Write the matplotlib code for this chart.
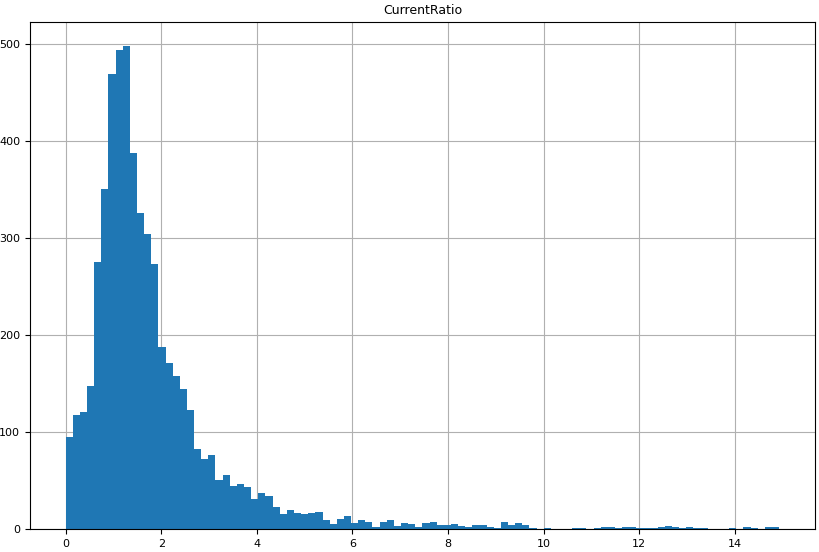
import numpy as np
import matplotlib
matplotlib.use("Agg")
import matplotlib.pyplot as plt

# counts per bin, 100 equal bins from 0 to max value
max_value = 14.93
counts = [95, 118, 121, 148, 276, 351, 469, 494, 498, 388,
          326, 304, 273, 188, 171, 158, 144, 123, 83, 72,
          76, 51, 56, 44, 46, 43, 31, 37, 34, 23,
          15, 20, 17, 15, 17, 18, 9, 5, 10, 13,
          6, 9, 7, 2, 7, 9, 3, 6, 5, 2,
          6, 7, 4, 4, 5, 3, 2, 4, 4, 2,
          1, 7, 4, 6, 4, 1, 0, 1, 0, 0,
          0, 1, 1, 0, 1, 2, 2, 1, 2, 2,
          1, 1, 1, 2, 3, 2, 1, 2, 1, 1,
          0, 0, 0, 1, 0, 2, 1, 0, 2, 2]

edges = np.linspace(0, max_value, len(counts) + 1)
centers = (edges[:-1] + edges[1:]) / 2

fig = plt.figure(figsize=(8.2, 5.52), dpi=100)
ax = fig.add_axes([0.0366, 0.0417, 0.957, 0.918])
ax.hist(centers, bins=edges, weights=counts, color="#1f77b4")
ax.grid(True, color="#b0b0b0", linewidth=0.8)
ax.set_axisbelow(True)
ax.set_title("CurrentRatio", fontsize=9)
ax.tick_params(labelsize=8)
fig.savefig("out.png")
